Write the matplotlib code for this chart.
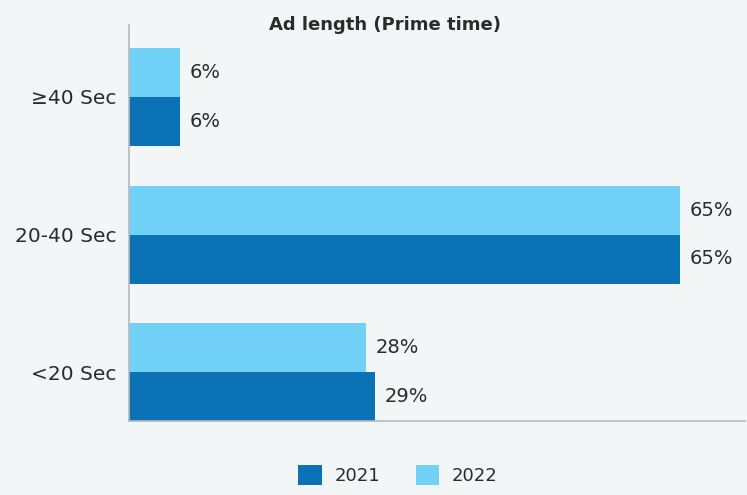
import matplotlib
matplotlib.use('Agg')

import matplotlib.pyplot as plt
import numpy as np

categories = ['<20 Sec', '20-40 Sec', '\u226540 Sec']
values_2021 = [29, 65, 6]
values_2022 = [28, 65, 6]
series_names = ['2021', '2022']

DARK = '#0a72b5'
LIGHT = '#72d1f7'
BG = '#f2f6f7'
TEXT = '#2b2b2b'

fig = plt.figure(figsize=(7.47, 4.95), dpi=100, facecolor=BG)
ax = fig.add_axes([129 / 747, 74 / 495, 616 / 747, 396 / 495], facecolor=BG)

y = np.arange(len(categories))
h = 49 / 137.5

bars21 = ax.barh(y - h / 2, values_2021, height=h, color=DARK, label=series_names[0])
bars22 = ax.barh(y + h / 2, values_2022, height=h, color=LIGHT, label=series_names[1])

for bars, vals in ((bars21, values_2021), (bars22, values_2022)):
    for b, v in zip(bars, vals):
        ax.annotate(f'{v}%', (b.get_width(), b.get_y() + b.get_height() / 2),
                    xytext=(7, 0), textcoords='offset points',
                    va='center', ha='left', fontsize=14, color=TEXT)

ax.set_xlim(0, 72.7)
ax.set_ylim(-h, 2 + 72 / 137.5)
ax.set_yticks(y)
ax.set_yticklabels(categories, fontsize=14.5, color=TEXT)
ax.set_xticks([])
ax.tick_params(axis='y', length=0, pad=9)

for side in ('top', 'right'):
    ax.spines[side].set_visible(False)
for side in ('left', 'bottom'):
    ax.spines[side].set_color('#b3b9be')
    ax.spines[side].set_linewidth(1.2)

fig.text(385 / 747, 1 - 25 / 495, 'Ad length (Prime time)', ha='center', va='center',
         fontsize=13, fontweight='bold', color=TEXT)

fig.legend(handles=[bars21, bars22], labels=series_names, loc='center',
           bbox_to_anchor=(398 / 747, 1 - 475 / 495), ncol=2, frameon=False,
           fontsize=13, handlelength=1.3, handleheight=1.3, columnspacing=2.0,
           handletextpad=0.7, labelcolor=TEXT)

plt.savefig('out.png', dpi=100, facecolor=BG)
plt.close()
